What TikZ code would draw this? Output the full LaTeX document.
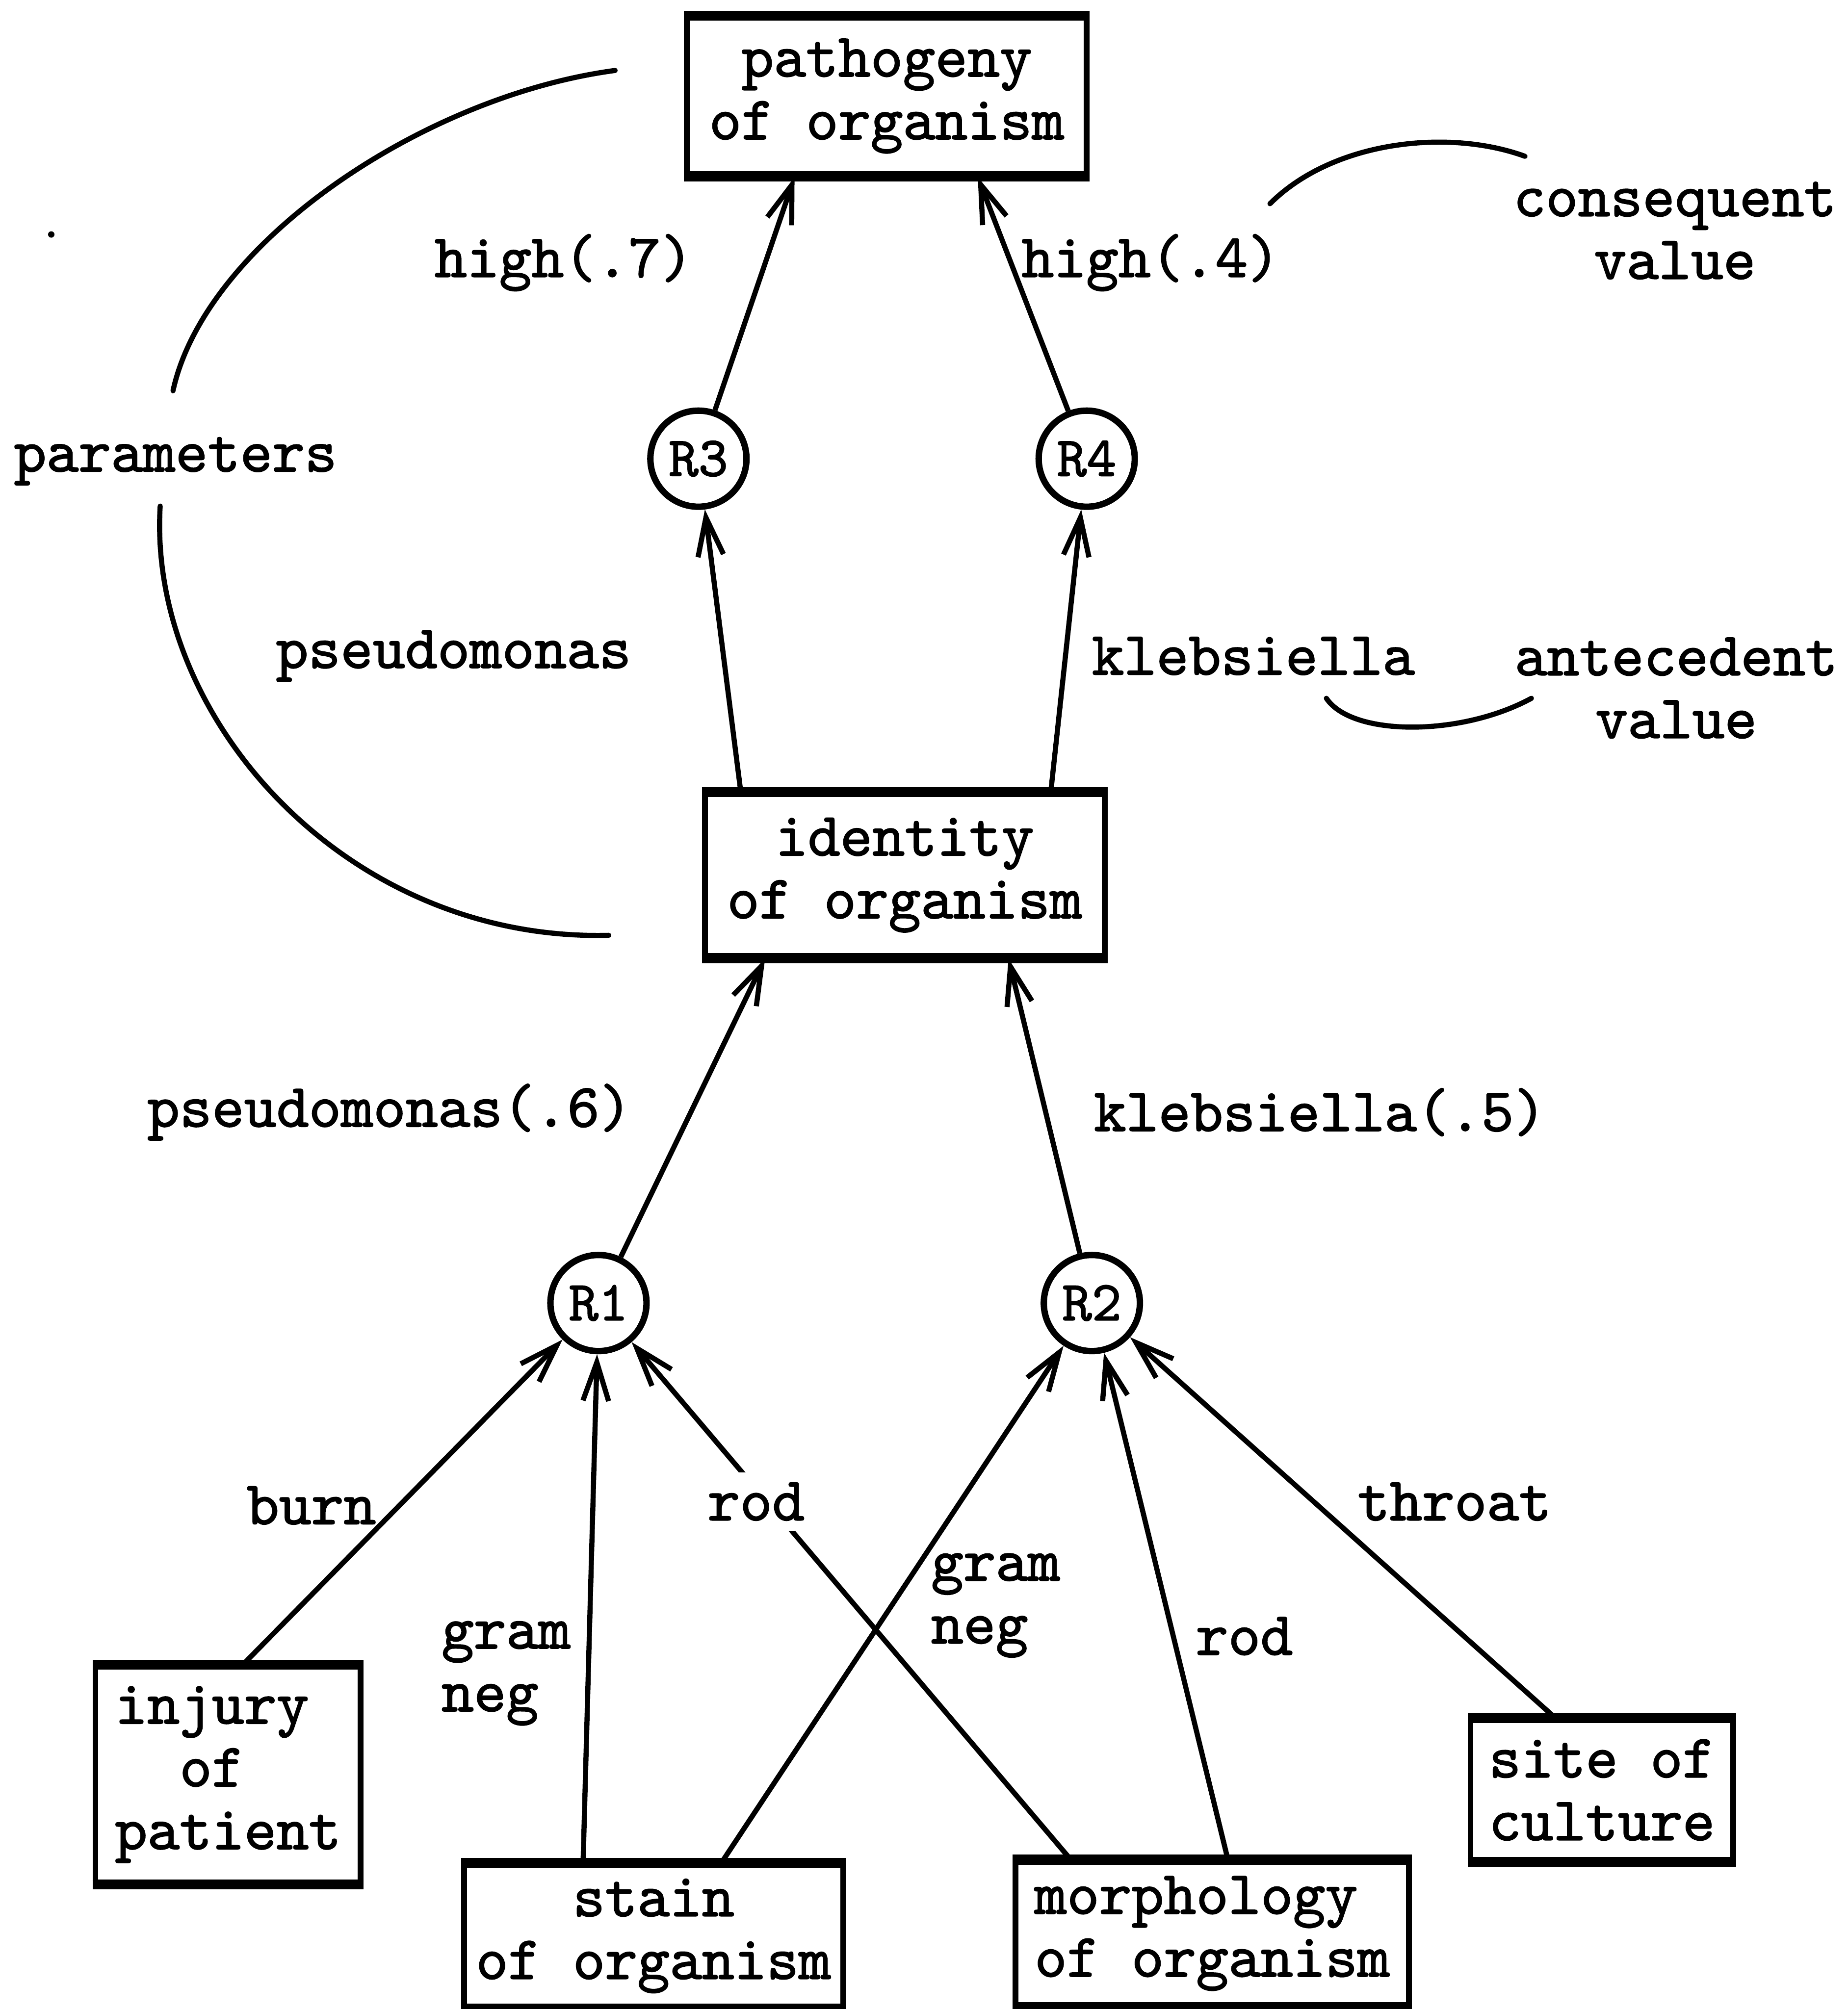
\documentclass[tikz,border=0pt]{standalone}
\usepackage{fontspec}
\newfontfamily\tw{lmmono10-regular.otf}[FakeBold=1.6]
\usetikzlibrary{arrows.meta,calc}
\begin{document}
\begin{tikzpicture}[x=1pt,y=-1pt,
  every node/.style={font=\fontsize{48}{49}\selectfont\tw, inner sep=0pt},
  box/.style={draw, line width=4.5pt, align=center},
  rulenode/.style={draw, circle, line width=5pt, minimum size=75pt,
    font=\fontsize{44}{44}\selectfont\tw},
  link/.style={line width=4pt, -{Straight Barb[length=30pt,width=20pt,line width=4pt]}},
  brace/.style={line width=4pt, line cap=round},
  tag/.style={align=center},
  ltag/.style={align=left}
]
\useasboundingbox (0,0) rectangle (1442,1568);

% parameter boxes
\node[box, minimum width=312pt, minimum height=122pt] (P) at (692,75) {pathogeny\\of organism};
\node[box, minimum width=312pt, minimum height=126pt] (I) at (706,683) {identity\\of organism};
\node[box, align=left, minimum width=207pt, minimum height=168pt] (inj) at (178,1385) {injury\\\phantom{xx}of\\patient};
\node[box, minimum width=296pt, minimum height=110pt] (stain) at (510,1511) {stain\\of organism};
\node[box, align=left, minimum width=307pt, minimum height=112pt] (morph) at (946,1509) {morphology\\of organism};
\node[box, align=left, minimum width=205pt, minimum height=109pt] (site) at (1250,1397) {site of\\culture};

% heavy top and bottom rules of the boxes
\foreach \n in {P,I,inj,stain,morph,site}
  \draw[line width=7pt] (\n.north west) -- (\n.north east)
                        (\n.south west) -- (\n.south east);

% rules
\node[rulenode] (R3) at (545,358) {R3};
\node[rulenode] (R4) at (848,358) {R4};
\node[rulenode] (R1) at (467,1017) {R1};
\node[rulenode] (R2) at (852,1017) {R2};

% inference links
\draw[link] (R3) -- ($(P.south)+(-72,0)$);
\draw[link] (R4) -- ($(P.south)+(71,0)$);
\draw[link] ($(I.north)+(-128,0)$) -- (R3);
\draw[link] ($(I.north)+(114,0)$) -- (R4);
\draw[link] (R1) -- ($(I.south)+(-109,0)$);
\draw[link] (R2) -- ($(I.south)+(81,0)$);
\draw[link] ($(inj.north)+(12,0)$) -- (R1);
\draw[link] ($(stain.north)+(-55,0)$) -- (R1);
\draw[link] ($(stain.north)+(53,0)$) -- (R2);
\draw[link] ($(morph.north)+(-111,0)$) -- (R1);
\draw[link] ($(morph.north)+(12,0)$) -- (R2);
\draw[link] ($(site.north)+(-37,0)$) -- (R2);

% values on the links
\node (h7) at (440,205) {high(.7)};
\node (h4) at (898,205) {high(.4)};
\node (ps) at (354,512) {pseudomonas};
\node (kl) at (978,512) {klebsiella};
\node (ps6) at (304,868) {pseudomonas(.6)};
\node (kl5) at (1030,868) {klebsiella(.5)};
\node (burn) at (243,1175) {burn};
\node[fill=white, inner xsep=4pt, inner ysep=8pt] (rodA) at (590,1172) {rod};
\node (throat) at (1135,1172) {throat};
\node[ltag] (gnA) at (395,1306) {gram\\neg};
\node[ltag] (gnB) at (777,1253) {gram\\neg};
\node (rodB) at (971,1277) {rod};

% annotations
\node (par) at (137,360) {parameters};
\node[tag] (cons) at (1307,180) {consequent\\value};
\node[tag] (ante) at (1308,537) {antecedent\\value};
\draw[brace] (480,55) .. controls (330,75) and (160,190) .. (135,305);
\draw[brace] (125,395) .. controls (115,560) and (270,735) .. (475,730);
\draw[brace] (991,159) .. controls (1040,110) and (1130,100) .. (1190,122);
\draw[brace] (1035,545) .. controls (1055,575) and (1140,575) .. (1195,545);
\fill (40,183) circle (2.5pt);
\end{tikzpicture}
\end{document}
